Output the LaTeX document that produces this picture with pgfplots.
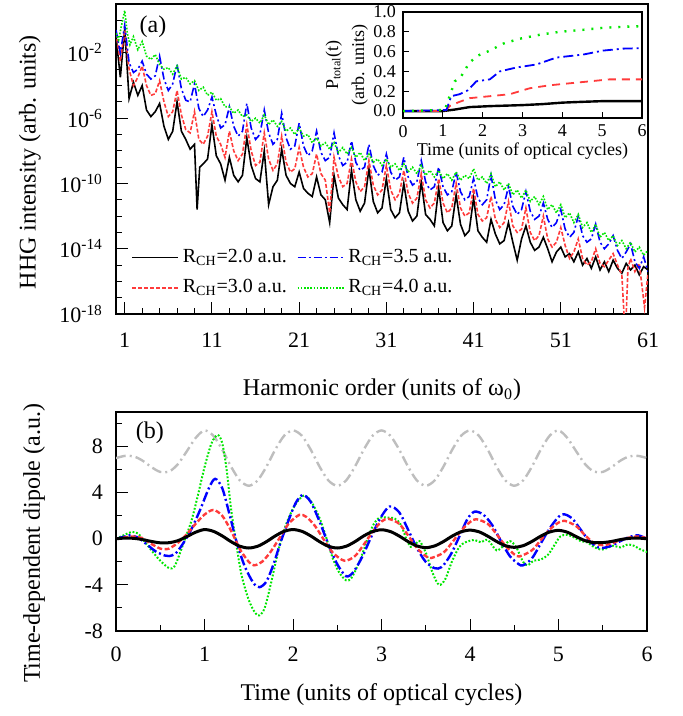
\documentclass[border=0pt]{standalone}
\usepackage{pgfplots}
\usepackage{pgfplotstable}
\pgfplotsset{compat=1.18}
\usepackage{fontspec}
\setmainfont{Liberation Serif}
\definecolor{cRed}{HTML}{FF3B3B}
\definecolor{cBlue}{HTML}{0000FF}
\definecolor{cGreen}{HTML}{00E600}
\definecolor{cGray}{HTML}{BEBEBE}

% HHG spectra, column lg = log10 of the intensity
\pgfplotstableread[row sep=\\]{
h lg\\
0 -1.0\\ 0.5 -3.5\\ 1 -0.5\\ 1.5 -4.8\\ 2 -3.8\\ 2.5 -4.6\\ 3 -4.0\\ 3.5 -5.5\\ 4 -5.9\\ 4.5 -5.6\\
5 -5.1\\ 5.5 -6.5\\ 6 -7.3\\ 6.5 -6.8\\ 7 -5.0\\ 7.5 -6.8\\ 8 -7.3\\ 8.5 -7.9\\ 9 -7.6\\ 9.3 -11.6\\ 9.6 -9.0\\
10 -8.8\\ 10.5 -8.5\\ 11 -6.4\\ 11.5 -8.3\\ 12 -8.8\\ 12.5 -9.8\\ 13 -8.4\\ 13.5 -9.5\\ 14 -9.9\\ 14.5 -9.5\\
15 -7.2\\ 15.5 -8.9\\ 16 -9.7\\ 16.5 -9.9\\ 17 -8.0\\ 17.5 -11.3\\ 18 -10.2\\ 18.5 -9.8\\ 19 -7.9\\ 19.5 -9.5\\
20 -10.0\\ 20.5 -10.2\\ 21 -9.3\\ 21.5 -10.3\\ 22 -10.6\\ 22.5 -10.8\\ 23 -9.6\\ 23.5 -10.7\\ 24 -11.0\\ 24.5 -12.4\\
25 -9.5\\ 25.5 -10.9\\ 26 -11.3\\ 26.5 -11.6\\ 27 -9.2\\ 27.5 -11.0\\ 28 -11.7\\ 28.5 -11.2\\ 29 -9.1\\ 29.5 -11.1\\
30 -11.8\\ 30.5 -11.5\\ 31 -9.7\\ 31.5 -11.6\\ 32 -12.1\\ 32.5 -11.8\\ 33 -10.0\\ 33.5 -11.7\\ 34 -12.3\\ 34.5 -12.0\\
35 -9.9\\ 35.5 -11.9\\ 36 -12.2\\ 36.5 -12.6\\ 37 -10.3\\ 37.5 -12.4\\ 38 -12.9\\ 38.5 -12.6\\ 39 -10.7\\ 39.5 -12.5\\
40 -13.2\\ 40.5 -12.9\\ 41 -10.9\\ 41.5 -12.9\\ 42 -13.3\\ 42.5 -13.6\\ 43 -12.2\\ 43.5 -13.1\\ 44 -13.7\\ 44.5 -13.5\\
45 -12.4\\ 45.5 -13.6\\ 46 -14.7\\ 46.5 -13.4\\ 47 -12.6\\ 47.5 -13.6\\ 48 -14.1\\ 48.5 -13.9\\ 49 -13.3\\ 49.5 -14.0\\
50 -14.8\\ 50.5 -14.2\\ 51 -13.9\\ 51.5 -14.5\\ 52 -14.3\\ 52.5 -14.8\\ 53 -14.2\\ 53.5 -15.0\\ 54 -14.6\\ 54.5 -15.2\\
55 -14.5\\ 55.5 -15.3\\ 56 -14.8\\ 56.5 -15.4\\ 57 -14.7\\ 57.5 -15.2\\ 58 -15.5\\ 58.5 -14.9\\ 59 -15.3\\ 59.5 -15.0\\
60 -15.6\\ 60.5 -15.1\\ 61 -15.3\\
}\hhgA

\pgfplotstableread[row sep=\\]{
h lg\\
0 -0.8\\ 0.5 -2.5\\ 1 -0.6\\ 1.5 -3.0\\ 2 -4.0\\ 2.5 -3.5\\ 3 -2.8\\ 3.5 -4.0\\ 4 -4.6\\ 4.5 -4.5\\
5 -3.7\\ 5.5 -5.0\\ 6 -5.9\\ 6.5 -5.6\\ 7 -4.3\\ 7.5 -5.8\\ 8 -6.7\\ 8.5 -6.9\\ 9 -5.6\\ 9.5 -7.3\\
10 -7.6\\ 10.5 -7.1\\ 11 -5.6\\ 11.5 -7.1\\ 12 -7.6\\ 12.5 -8.4\\ 13 -6.8\\ 13.5 -8.0\\ 14 -8.6\\ 14.5 -8.2\\
15 -6.4\\ 15.5 -8.0\\ 16 -8.9\\ 16.5 -8.7\\ 17 -6.9\\ 17.5 -8.5\\ 18 -9.2\\ 18.5 -8.8\\ 19 -7.1\\ 19.5 -8.7\\
20 -9.3\\ 20.5 -9.1\\ 21 -7.8\\ 21.5 -9.0\\ 22 -9.6\\ 22.5 -9.4\\ 23 -8.2\\ 23.5 -9.4\\ 24 -9.8\\ 24.5 -11.8\\
25 -8.4\\ 25.5 -9.6\\ 26 -10.2\\ 26.5 -10.0\\ 27 -8.5\\ 27.5 -9.9\\ 28 -10.5\\ 28.5 -10.2\\ 29 -8.6\\ 29.5 -10.1\\
30 -10.7\\ 30.5 -10.4\\ 31 -8.9\\ 31.5 -10.4\\ 32 -11.0\\ 32.5 -10.6\\ 33 -9.2\\ 33.5 -10.6\\ 34 -11.2\\ 34.5 -10.9\\
35 -9.4\\ 35.5 -11.0\\ 36 -11.5\\ 36.5 -11.2\\ 37 -9.7\\ 37.5 -11.2\\ 38 -11.8\\ 38.5 -11.5\\ 39 -10.0\\ 39.5 -11.5\\
40 -12.0\\ 40.5 -11.8\\ 41 -10.3\\ 41.5 -11.9\\ 42 -12.3\\ 42.5 -12.1\\ 43 -10.8\\ 43.5 -12.2\\ 44 -12.7\\ 44.5 -12.4\\
45 -11.1\\ 45.5 -12.6\\ 46 -13.0\\ 46.5 -12.8\\ 47 -11.5\\ 47.5 -13.0\\ 48 -13.5\\ 48.5 -13.2\\ 49 -12.0\\ 49.5 -13.4\\
50 -13.9\\ 50.5 -13.6\\ 51 -12.7\\ 51.5 -13.8\\ 52 -14.6\\ 52.5 -14.2\\ 53 -13.4\\ 53.5 -14.6\\ 54 -15.0\\ 54.5 -14.8\\
55 -14.0\\ 55.5 -14.9\\ 56 -15.1\\ 56.5 -14.7\\ 57 -14.3\\ 57.5 -15.0\\ 58 -15.6\\ 58.4 -19.5\\ 58.7 -15.2\\ 59 -14.6\\
59.5 -15.4\\ 60 -14.9\\ 60.6 -17.6\\ 61 -15.5\\
}\hhgB

\pgfplotstableread[row sep=\\]{
h lg\\
0 -0.6\\ 0.5 -2.0\\ 1 -0.3\\ 1.5 -2.6\\ 2 -3.2\\ 2.5 -3.0\\ 3 -2.5\\ 3.5 -3.3\\ 4 -3.6\\ 4.5 -3.4\\
5 -2.2\\ 5.5 -3.6\\ 6 -4.3\\ 6.5 -3.9\\ 7 -2.7\\ 7.5 -4.2\\ 8 -4.9\\ 8.5 -5.0\\ 9 -3.9\\ 9.5 -5.4\\
10 -5.9\\ 10.5 -5.5\\ 11 -4.7\\ 11.5 -5.8\\ 12 -6.6\\ 12.5 -6.4\\ 13 -5.3\\ 13.5 -6.5\\ 14 -7.1\\ 14.5 -6.8\\
15 -5.1\\ 15.5 -6.6\\ 16 -7.3\\ 16.5 -7.0\\ 17 -5.5\\ 17.5 -6.9\\ 18 -7.6\\ 18.5 -7.3\\ 19 -5.7\\ 19.5 -7.2\\
20 -7.9\\ 20.5 -7.7\\ 21 -6.3\\ 21.5 -7.7\\ 22 -8.3\\ 22.5 -8.0\\ 23 -6.8\\ 23.5 -8.1\\ 24 -8.6\\ 24.5 -8.4\\
25 -6.9\\ 25.5 -8.3\\ 26 -8.9\\ 26.5 -8.7\\ 27 -7.4\\ 27.5 -8.7\\ 28 -9.2\\ 28.5 -9.0\\ 29 -7.6\\ 29.5 -8.9\\
30 -9.5\\ 30.5 -9.3\\ 31 -8.2\\ 31.5 -9.3\\ 32 -9.8\\ 32.5 -9.6\\ 33 -8.4\\ 33.5 -9.6\\ 34 -10.1\\ 34.5 -9.9\\
35 -8.6\\ 35.5 -9.9\\ 36 -10.4\\ 36.5 -10.2\\ 37 -9.0\\ 37.5 -10.2\\ 38 -10.7\\ 38.5 -10.5\\ 39 -9.3\\ 39.5 -10.5\\
40 -11.0\\ 40.5 -10.8\\ 41 -9.7\\ 41.5 -10.9\\ 42 -11.3\\ 42.5 -11.0\\ 43 -9.5\\ 43.5 -11.0\\ 44 -11.6\\ 44.5 -11.3\\
45 -10.2\\ 45.5 -11.4\\ 46 -11.9\\ 46.5 -11.6\\ 47 -10.5\\ 47.5 -11.7\\ 48 -12.2\\ 48.5 -12.0\\ 49 -11.2\\ 49.5 -12.2\\
50 -12.7\\ 50.5 -12.4\\ 51 -11.6\\ 51.5 -12.8\\ 52 -13.3\\ 52.5 -13.0\\ 53 -12.0\\ 53.5 -13.2\\ 54 -13.6\\ 54.5 -13.4\\
55 -12.5\\ 55.5 -13.6\\ 56 -14.0\\ 56.5 -13.7\\ 57 -13.2\\ 57.5 -14.1\\ 58 -14.6\\ 58.5 -14.2\\ 59 -13.7\\ 59.5 -14.8\\
60 -15.2\\ 60.5 -14.5\\ 61 -15.4\\
}\hhgC

\pgfplotstableread[row sep=\\]{
h lg\\
0 -0.8\\ 0.3 -1.2\\ 0.6 -0.4\\ 1 0.6\\ 1.3 -0.8\\ 1.6 -1.5\\ 2 -1.0\\ 2.5 -1.8\\ 3 -1.3\\ 3.5 -2.2\\
4 -2.4\\ 4.5 -2.1\\ 5 -2.7\\ 5.5 -3.0\\ 6 -2.9\\ 6.5 -3.3\\ 7 -2.8\\ 7.5 -3.6\\ 8 -3.5\\ 8.5 -3.9\\
9 -3.7\\ 9.5 -4.3\\ 10 -4.1\\ 10.5 -4.6\\ 11 -4.4\\ 11.5 -4.9\\ 12 -4.8\\ 12.5 -5.3\\ 13 -5.3\\ 13.5 -5.7\\
14 -5.5\\ 14.5 -5.9\\ 15 -5.8\\ 15.5 -6.2\\ 16 -6.0\\ 16.5 -6.3\\ 17 -5.8\\ 17.5 -6.4\\ 18 -6.1\\ 18.5 -6.5\\
19 -6.2\\ 19.5 -6.8\\ 20 -6.6\\ 20.5 -7.0\\ 21 -6.6\\ 21.5 -7.1\\ 22 -7.0\\ 22.5 -7.5\\ 23 -7.2\\ 23.5 -7.7\\
24 -7.5\\ 24.5 -7.9\\ 25 -7.5\\ 25.5 -8.1\\ 26 -7.8\\ 26.5 -8.2\\ 27 -7.8\\ 27.5 -8.4\\ 28 -8.1\\ 28.5 -8.6\\
29 -8.2\\ 29.5 -8.7\\ 30 -8.5\\ 30.5 -8.9\\ 31 -8.5\\ 31.5 -9.0\\ 32 -8.8\\ 32.5 -9.2\\ 33 -8.8\\ 33.5 -9.3\\
34 -9.0\\ 34.5 -9.4\\ 35 -8.9\\ 35.5 -9.5\\ 36 -9.2\\ 36.5 -9.6\\ 37 -9.2\\ 37.5 -9.7\\ 38 -9.4\\ 38.5 -9.8\\
39 -9.3\\ 39.5 -9.8\\ 40 -9.5\\ 40.5 -9.7\\ 41 -9.1\\ 41.5 -9.8\\ 42 -9.6\\ 42.5 -10.0\\ 43 -9.4\\ 43.5 -10.2\\
44 -9.9\\ 44.5 -10.4\\ 45 -10.0\\ 45.5 -10.7\\ 46 -10.4\\ 46.5 -10.9\\ 47 -10.4\\ 47.5 -11.1\\ 48 -10.8\\ 48.5 -11.3\\
49 -10.8\\ 49.5 -11.6\\ 50 -11.3\\ 50.5 -11.8\\ 51 -11.3\\ 51.5 -12.1\\ 52 -11.8\\ 52.5 -12.4\\ 53 -11.9\\ 53.5 -12.7\\
54 -12.4\\ 54.5 -13.0\\ 55 -12.5\\ 55.5 -13.3\\ 56 -13.0\\ 56.5 -13.5\\ 57 -13.2\\ 57.5 -13.8\\ 58 -13.5\\ 58.5 -14.0\\
59 -13.6\\ 59.5 -14.2\\ 60 -13.9\\ 60.5 -14.4\\ 61 -14.1\\
}\hhgD

\pgfplotsset{
  panel/.style={
    scale only axis,
    axis line style={line width=0.6pt},
    tick align=inside,
    tick pos=left,
    major tick length=6pt,
    minor tick length=3pt,
    every tick/.style={line width=0.5pt, black},
    /pgf/number format/assume math mode=true,
    tick label style={font=\fontsize{11}{13}\selectfont},
    label style={font=\fontsize{12}{14}\selectfont},
  },
}

\begin{document}
\begin{tikzpicture}
\path[use as bounding box] (0pt,0pt) rectangle (341pt,358pt);

% ---------- (a) HHG spectra ----------
\begin{axis}[panel,
  at={(58pt,201pt)}, anchor=south west, width=266pt, height=155pt,
  xmin=0, xmax=61, ymode=log, ymin=1e-18, ymax=1e1,
  xtick={1,11,...,61}, minor xtick={3,5,...,59},
  ytick={1e-18,1e-14,1e-10,1e-6,1e-2},
  yticklabels={10\textsuperscript{-18},10\textsuperscript{-14},10\textsuperscript{-10},10\textsuperscript{-6},10\textsuperscript{-2}},
  minor ytick={1e-17,1e-16,1e-15,1e-13,1e-12,1e-11,1e-9,1e-8,1e-7,1e-5,1e-4,1e-3,1e-1,1e0},
  xticklabel style={yshift=-6pt},
  yticklabel style={xshift=-3pt},
  xlabel={Harmonic order (units of ω\textsubscript{0})},
  ylabel={HHG intensity (arb. units)},
  xlabel style={at={(axis description cs:0.5,-0.245)}, anchor=center},
  ylabel style={at={(axis description cs:-0.162,0.49)}, anchor=center},
  legend columns=2, transpose legend,
  legend style={draw=none, fill=none, inner sep=0pt,
    at={(axis description cs:0.028,0.223)}, anchor=north west,
    font=\fontsize{10}{12}\selectfont, row sep=3pt,
    /tikz/every even column/.append style={column sep=3pt}},
  legend image code/.code={\draw[#1] (0pt,0pt) -- (23pt,0pt);},
]
\addplot[black, line width=0.8pt] table[x=h, y expr=10^(\thisrow{lg})] {\hhgA};
\addplot[cRed, line width=0.8pt, dash pattern=on 2pt off 1pt] table[x=h, y expr=10^(\thisrow{lg})] {\hhgB};
\addplot[cBlue, line width=0.8pt, dash pattern=on 4pt off 1.5pt on 1pt off 1.5pt] table[x=h, y expr=10^(\thisrow{lg})] {\hhgC};
\addplot[cGreen, line width=0.8pt, dash pattern=on 0.8pt off 0.8pt] table[x=h, y expr=10^(\thisrow{lg})] {\hhgD};
\legend{R\textsubscript{CH}=2.0 a.u., R\textsubscript{CH}=3.0 a.u., R\textsubscript{CH}=3.5 a.u., R\textsubscript{CH}=4.0 a.u.}
\node[font=\fontsize{12}{14}\selectfont] at (axis description cs:0.0695,0.926) {(a)};
\end{axis}

% ---------- inset: total ionization probability ----------
\begin{axis}[panel,
  at={(201.5pt,299pt)}, anchor=south west, width=119.5pt, height=53pt,
  xmin=0, xmax=6, ymin=-0.07, ymax=1.0,
  xtick={0,1,2,3,4,5,6}, ytick={0,0.2,0.4,0.6,0.8,1.0},
  yticklabel style={/pgf/number format/.cd, fixed, fixed zerofill, precision=1},
  major tick length=3pt,
  tick label style={font=\fontsize{9}{10}\selectfont},
  label style={font=\fontsize{9}{13}\selectfont},
  xlabel={Time (units of optical cycles)},
  ylabel={P\textsubscript{total}(t)\\(arb. units)},
  xlabel style={at={(axis description cs:0.5,-0.31)}, anchor=center},
  ylabel style={at={(axis description cs:-0.235,0.5)}, anchor=center, align=center},
]
\addplot[black, line width=1.2pt] coordinates {
(0,0) (1.0,0) (1.3,0.015) (1.67,0.04) (2.2,0.05) (3.0,0.06) (3.5,0.07) (4.0,0.085) (4.5,0.093) (5.0,0.10) (6,0.10)};
\addplot[cRed, line width=0.9pt, dash pattern=on 4pt off 3pt] coordinates {
(0,0) (1.05,0) (1.17,0.05) (1.4,0.09) (1.67,0.13) (2.18,0.15) (2.68,0.17) (3.18,0.23) (3.68,0.26) (4.18,0.28) (4.69,0.30) (5.19,0.32) (5.69,0.32) (6,0.32)};
\addplot[cBlue, line width=0.9pt, dash pattern=on 5pt off 2pt on 1pt off 2pt] coordinates {
(0,0) (1.09,0.01) (1.21,0.15) (1.42,0.17) (1.63,0.21) (1.84,0.30) (2.18,0.32) (2.43,0.40) (2.85,0.44) (3.35,0.47) (3.85,0.54) (4.52,0.57) (5.02,0.61) (5.52,0.63) (6,0.635)};
\addplot[cGreen, line width=1.2pt, dash pattern=on 1pt off 3.5pt] coordinates {
(0,0) (1.05,0.01) (1.17,0.15) (1.3,0.30) (1.46,0.35) (1.67,0.49) (1.88,0.56) (2.18,0.61) (2.51,0.68) (2.93,0.73) (3.43,0.77) (3.93,0.80) (4.52,0.82) (5.02,0.84) (5.52,0.85) (6,0.857)};
\end{axis}

% ---------- (b) time-dependent dipole ----------
\begin{axis}[panel,
  at={(58pt,42.5pt)}, anchor=south west, width=265.5pt, height=109.5pt,
  xmin=0, xmax=6, ymin=-8, ymax=11,
  xtick={0,1,2,3,4,5,6}, minor xtick={0.5,1.5,2.5,3.5,4.5,5.5},
  ytick={-8,-4,0,4,8}, minor ytick={-6,-2,2,6,10},
  xticklabel style={yshift=-4.5pt},
  yticklabel style={xshift=-3pt},
  xlabel={Time (units of optical cycles)},
  ylabel={Time-dependent dipole (a.u.)},
  xlabel style={at={(axis description cs:0.5,-0.292)}, anchor=center},
  ylabel style={at={(axis description cs:-0.154,0.40)}, anchor=center},
]
% laser field, shifted
\addplot[cGray, line width=1.2pt, dash pattern=on 5pt off 2pt on 1pt off 2pt, smooth] coordinates {
(0,7.0) (0.1,7.19) (0.2,7.15) (0.3,6.78) (0.4,6.22) (0.5,5.80) (0.6,5.83) (0.7,6.48) (0.8,7.59) (0.9,8.75)
(1.0,9.40) (1.1,8.94) (1.2,7.74) (1.3,6.26) (1.4,5.06) (1.5,4.60) (1.6,5.06) (1.7,6.26) (1.8,7.74) (1.9,8.94)
(2.0,9.40) (2.1,8.94) (2.2,7.74) (2.3,6.26) (2.4,5.06) (2.5,4.60) (2.6,5.06) (2.7,6.26) (2.8,7.74) (2.9,8.94)
(3.0,9.40) (3.1,8.94) (3.2,7.74) (3.3,6.26) (3.4,5.06) (3.5,4.60) (3.6,5.06) (3.7,6.26) (3.8,7.74) (3.9,8.94)
(4.0,9.40) (4.1,8.94) (4.2,7.74) (4.3,6.26) (4.4,5.06) (4.5,4.60) (4.6,5.06) (4.7,6.26) (4.8,7.74) (4.9,8.94)
(5.0,9.40) (5.1,8.75) (5.2,7.59) (5.3,6.48) (5.4,5.83) (5.5,5.80) (5.6,6.22) (5.7,6.78) (5.8,7.15) (5.9,7.19) (6.0,7.0)};
% R = 4.0
\addplot[cGreen, line width=1.0pt, dash pattern=on 0.9pt off 0.9pt, smooth] coordinates {
(0,0) (0.1,0.35) (0.18,0.6) (0.25,0.45) (0.32,-0.2) (0.4,-1.0) (0.5,-1.9) (0.6,-2.55) (0.66,-2.4) (0.72,-1.3)
(0.78,0.0) (0.85,1.5) (0.92,3.6) (1.0,6.2) (1.08,8.3) (1.15,9.0) (1.2,8.3) (1.25,6.0) (1.3,2.6) (1.36,-0.5)
(1.42,-3.2) (1.5,-5.3) (1.57,-6.4) (1.62,-6.65) (1.68,-6.0) (1.75,-3.9) (1.82,-1.5) (1.88,0.3) (1.95,1.8) (2.03,3.0)
(2.12,3.75) (2.2,3.3) (2.3,1.8) (2.38,0.0) (2.45,-1.7) (2.52,-2.9) (2.6,-3.6) (2.66,-3.4) (2.75,-2.0) (2.83,-0.3)
(2.9,1.1) (2.97,1.8) (3.05,1.85) (3.15,1.75) (3.22,1.2) (3.28,0.0) (3.33,-0.7) (3.38,-0.5) (3.43,-0.2) (3.5,-1.2)
(3.58,-3.0) (3.65,-4.0) (3.72,-3.5) (3.8,-1.9) (3.88,-0.7) (3.95,-0.3) (4.05,-0.1) (4.12,-0.3) (4.2,-0.1) (4.3,-1.0)
(4.38,-0.6) (4.45,-0.2) (4.52,-0.7) (4.6,-2.0) (4.65,-2.3) (4.72,-1.9) (4.8,-1.8) (4.88,-1.4) (4.95,-0.6) (5.02,0.2)
(5.1,0.35) (5.18,0.1) (5.25,-0.2) (5.32,-0.3) (5.4,-0.7) (5.48,-0.95) (5.55,-0.8) (5.62,-0.6) (5.7,-0.75) (5.78,-0.5)
(5.85,-0.6) (5.92,-0.9) (6.0,-1.15)};
% R = 3.5
\addplot[cBlue, line width=1.2pt, dash pattern=on 5pt off 1.5pt on 1pt off 1.5pt, smooth] coordinates {
(0,0) (0.1,0.2) (0.15,0.3) (0.25,0.1) (0.35,-0.5) (0.45,-1.1) (0.55,-1.45) (0.6,-1.5) (0.67,-1.3) (0.75,-0.5)
(0.85,0.8) (0.95,2.5) (1.05,4.4) (1.12,5.2) (1.2,4.4) (1.28,2.2) (1.36,-0.2) (1.45,-2.3) (1.55,-3.8) (1.62,-4.2)
(1.7,-3.7) (1.78,-2.2) (1.86,-0.3) (1.95,1.6) (2.03,3.1) (2.11,3.8) (2.2,3.2) (2.3,1.5) (2.4,-0.5) (2.5,-2.2)
(2.6,-3.25) (2.68,-2.9) (2.78,-1.6) (2.88,0.1) (2.98,1.7) (3.09,2.8) (3.2,2.3) (3.3,0.8) (3.4,-0.8) (3.5,-2.0)
(3.6,-2.55) (3.68,-2.45) (3.78,-1.4) (3.88,0.2) (3.97,1.7) (4.05,2.35) (4.15,2.1) (4.25,1.2) (4.35,-0.2) (4.45,-1.5)
(4.55,-2.2) (4.6,-2.3) (4.7,-1.7) (4.8,-0.4) (4.9,0.9) (5.0,1.9) (5.06,2.13) (5.15,1.8) (5.25,0.8) (5.35,-0.2)
(5.45,-0.75) (5.5,-0.8) (5.6,-0.6) (5.7,-0.2) (5.8,0.15) (5.9,0.3) (6.0,0.0)};
% R = 3.0
\addplot[cRed, line width=1.2pt, dash pattern=on 2.5pt off 1.2pt, smooth] coordinates {
(0,0) (0.1,0.12) (0.2,0.2) (0.3,0.05) (0.4,-0.45) (0.5,-0.85) (0.55,-0.9) (0.6,-0.85) (0.7,-0.35) (0.8,0.4)
(0.9,1.3) (1.0,2.1) (1.1,2.5) (1.2,2.0) (1.3,0.7) (1.4,-0.9) (1.5,-2.0) (1.56,-2.3) (1.65,-2.0) (1.75,-1.1)
(1.85,0.1) (1.95,1.3) (2.07,2.07) (2.15,1.9) (2.25,1.1) (2.35,-0.1) (2.45,-1.2) (2.58,-1.9) (2.7,-1.5) (2.8,-0.5)
(2.9,0.6) (3.0,1.5) (3.08,1.73) (3.2,1.3) (3.3,0.3) (3.4,-0.8) (3.5,-1.5) (3.56,-1.67) (3.7,-1.2) (3.8,-0.3)
(3.9,0.7) (4.0,1.45) (4.07,1.7) (4.2,1.3) (4.3,0.4) (4.4,-0.6) (4.5,-1.35) (4.56,-1.53) (4.7,-1.0) (4.8,-0.1)
(4.9,0.8) (5.0,1.4) (5.07,1.56) (5.2,1.1) (5.3,0.3) (5.4,-0.35) (5.5,-0.55) (5.6,-0.4) (5.7,-0.1) (5.8,0.1)
(5.9,0.2) (6.0,0.05)};
% R = 2.0
\addplot[black, line width=1.5pt, smooth] coordinates {
(0,0) (0.1,0.06) (0.2,0.04) (0.3,-0.07) (0.4,-0.23) (0.5,-0.35) (0.6,-0.34) (0.7,-0.16) (0.8,0.19) (0.9,0.57)
(1.0,0.8) (1.1,0.65) (1.2,0.25) (1.3,-0.25) (1.4,-0.65) (1.5,-0.8) (1.6,-0.65) (1.7,-0.25) (1.8,0.25) (1.9,0.65)
(2.0,0.8) (2.1,0.65) (2.2,0.25) (2.3,-0.25) (2.4,-0.65) (2.5,-0.8) (2.6,-0.65) (2.7,-0.25) (2.8,0.25) (2.9,0.63)
(3.0,0.78) (3.1,0.63) (3.2,0.24) (3.3,-0.24) (3.4,-0.62) (3.5,-0.77) (3.6,-0.62) (3.7,-0.24) (3.8,0.24) (3.9,0.61)
(4.0,0.75) (4.1,0.61) (4.2,0.23) (4.3,-0.23) (4.4,-0.6) (4.5,-0.74) (4.6,-0.6) (4.7,-0.23) (4.8,0.23) (4.9,0.59)
(5.0,0.73) (5.1,0.57) (5.2,0.19) (5.3,-0.16) (5.4,-0.33) (5.5,-0.33) (5.6,-0.23) (5.7,-0.07) (5.8,0.04) (5.9,0.06)
(6.0,0.0)};
\node[font=\fontsize{12}{14}\selectfont] at (axis description cs:0.064,0.904) {(b)};
\end{axis}
\end{tikzpicture}
\end{document}
